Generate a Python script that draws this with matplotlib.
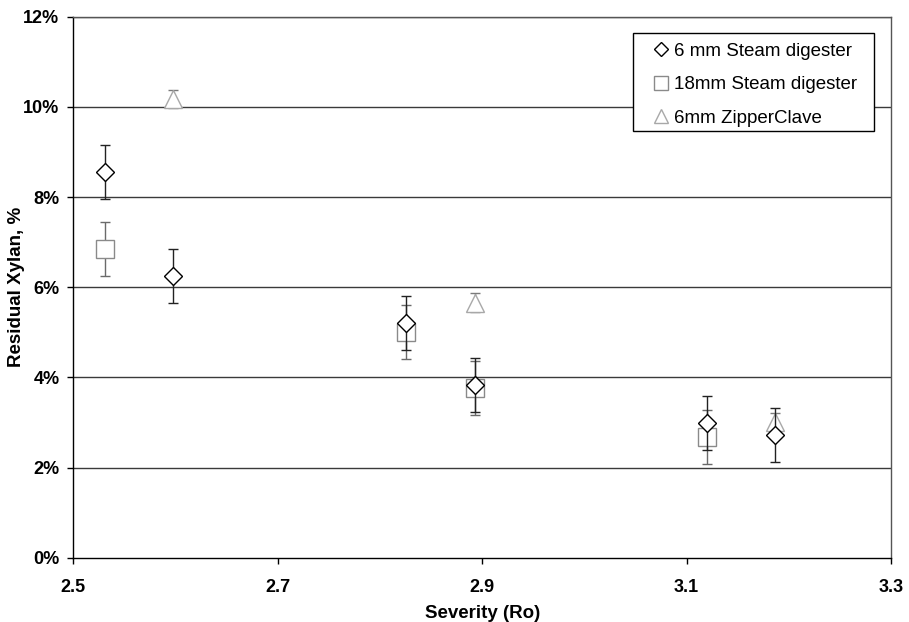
import matplotlib.pyplot as plt
from matplotlib.patches import Rectangle
from matplotlib.ticker import FuncFormatter

# ==========================
# DATA
# ==========================

sev_6mm = [2.531, 2.598, 2.826, 2.893, 3.120, 3.187]
xyl_6mm = [8.55, 6.25, 5.20, 3.84, 2.98, 2.73]
err_6mm = [0.6, 0.6, 0.6, 0.6, 0.6, 0.6]

sev_18mm = [2.531, 2.826, 2.893, 3.120]
xyl_18mm = [6.85, 5.00, 3.76, 2.68]
err_18mm = [0.6, 0.6, 0.6, 0.6]

sev_zip = [2.598, 2.893, 3.187]
xyl_zip = [10.18, 5.66, 3.02]
err_zip = [0.2, 0.2, 0.2]

x_ticks = [2.5, 2.7, 2.9, 3.1, 3.3]
y_ticks = [0, 2, 4, 6, 8, 10, 12]

plt.rcParams['font.family'] = ['Liberation Sans', 'DejaVu Sans']

fig = plt.figure(figsize=(9.09, 6.22), dpi=100)
ax = fig.add_axes([0.0806, 0.1034, 0.8996, 0.8698])

# gridlines
for y in y_ticks[1:]:
    ax.axhline(y, color='#3a3a3a', lw=1.0, zorder=1)

# ==========================
# SERIES
# ==========================

ax.errorbar(
    sev_18mm, xyl_18mm, yerr=err_18mm,
    fmt='s', ms=12.5, mfc='white', mec='#8a8a8a', mew=1.0,
    ecolor='#6a6a6a', elinewidth=1.0, capsize=3.5, capthick=1.0,
    label='18mm Steam digester', zorder=3
)

ax.errorbar(
    sev_zip, xyl_zip, yerr=err_zip,
    fmt='^', ms=13, mfc='white', mec='#a8a8a8', mew=1.0,
    ecolor='#7a7a7a', elinewidth=1.0, capsize=3.5, capthick=1.0,
    label='6mm ZipperClave', zorder=3
)

ax.errorbar(
    sev_6mm, xyl_6mm, yerr=err_6mm,
    fmt='D', ms=9.5, mfc='white', mec='black', mew=1.0,
    ecolor='#222222', elinewidth=1.0, capsize=3.5, capthick=1.0,
    label='6 mm Steam digester', zorder=4
)

# ==========================
# AXES
# ==========================

ax.set_xlim(2.5, 3.3)
ax.set_ylim(0, 12)
ax.set_xticks(x_ticks)
ax.set_yticks(y_ticks)
ax.yaxis.set_major_formatter(FuncFormatter(lambda v, p: f"{int(v)}%"))

ax.tick_params(axis='y', direction='out', length=4, width=1, pad=6, labelsize=13)
ax.tick_params(axis='x', direction='out', length=4, width=1, pad=11.5, labelsize=13)

for lab in ax.get_xticklabels() + ax.get_yticklabels():
    lab.set_fontweight('bold')

for s in ax.spines.values():
    s.set_color('black')
    s.set_linewidth(1.0)
ax.spines['right'].set_color('#555555')
ax.spines['top'].set_color('#555555')

ax.set_xlabel("Severity (Ro)", fontsize=13.5, fontweight='bold', labelpad=6)
ax.set_ylabel("Residual Xylan, %", fontsize=13.5, fontweight='bold')
ax.yaxis.set_label_coords(-0.059, 0.5)

# ==========================
# LEGEND (wide box, tight rows as in the original)
# ==========================

ax.add_patch(Rectangle(
    (0.6845, 0.7893), 0.2947, 0.1811, transform=ax.transAxes,
    facecolor='white', edgecolor='black', lw=1.0, zorder=5, clip_on=False
))

handles, labels = ax.get_legend_handles_labels()
order = [2, 0, 1]
leg = ax.legend(
    [handles[i][0] for i in order], [labels[i] for i in order],
    loc='upper left', bbox_to_anchor=(0.7096, 0.9523), borderaxespad=0,
    fontsize=13.5, frameon=False,
    handlelength=0.8, handletextpad=0.29, labelspacing=0.88,
    borderpad=0, markerscale=0.75
)
leg.set_zorder(6)

plt.savefig("out.png", dpi=100)
